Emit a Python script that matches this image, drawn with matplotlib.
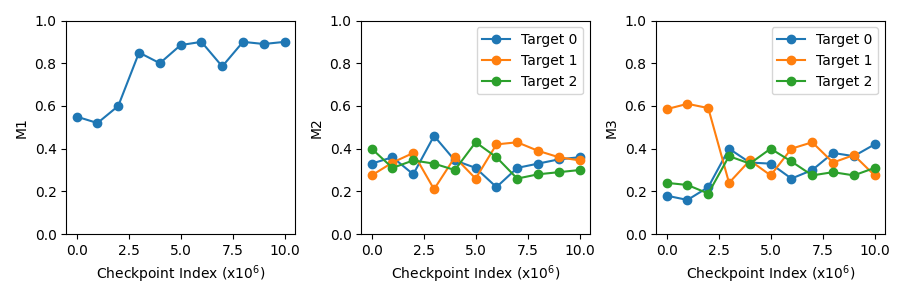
import matplotlib
matplotlib.use('Agg')
import matplotlib.pyplot as plt

checkpoints = list(range(11))

m1 = [0.55, 0.52, 0.60, 0.85, 0.80, 0.885, 0.90, 0.785, 0.90, 0.89, 0.90]

m2_t0 = [0.33, 0.36, 0.28, 0.46, 0.345, 0.31, 0.22, 0.31, 0.33, 0.35, 0.36]
m2_t1 = [0.275, 0.335, 0.38, 0.21, 0.36, 0.26, 0.42, 0.43, 0.39, 0.36, 0.345]
m2_t2 = [0.40, 0.31, 0.345, 0.33, 0.30, 0.43, 0.36, 0.26, 0.28, 0.29, 0.30]

m3_t0 = [0.18, 0.16, 0.22, 0.40, 0.335, 0.33, 0.26, 0.30, 0.38, 0.365, 0.42]
m3_t1 = [0.585, 0.61, 0.59, 0.24, 0.345, 0.275, 0.40, 0.43, 0.335, 0.37, 0.275]
m3_t2 = [0.24, 0.23, 0.19, 0.365, 0.33, 0.40, 0.34, 0.275, 0.29, 0.275, 0.31]

fig, axes = plt.subplots(1, 3, figsize=(9, 3), dpi=100)

axes[0].plot(checkpoints, m1, marker='o')
axes[0].set_ylabel('M1')

for ax, series, name in [(axes[1], [m2_t0, m2_t1, m2_t2], 'M2'),
                         (axes[2], [m3_t0, m3_t1, m3_t2], 'M3')]:
    for i, vals in enumerate(series):
        ax.plot(checkpoints, vals, marker='o', label='Target %d' % i)
    ax.set_ylabel(name)
    ax.legend(loc='upper right')

for ax in axes:
    ax.set_ylim(0, 1)
    ax.set_xlabel('Checkpoint Index (x$10^6$)')

plt.tight_layout()
plt.savefig('out.png')
